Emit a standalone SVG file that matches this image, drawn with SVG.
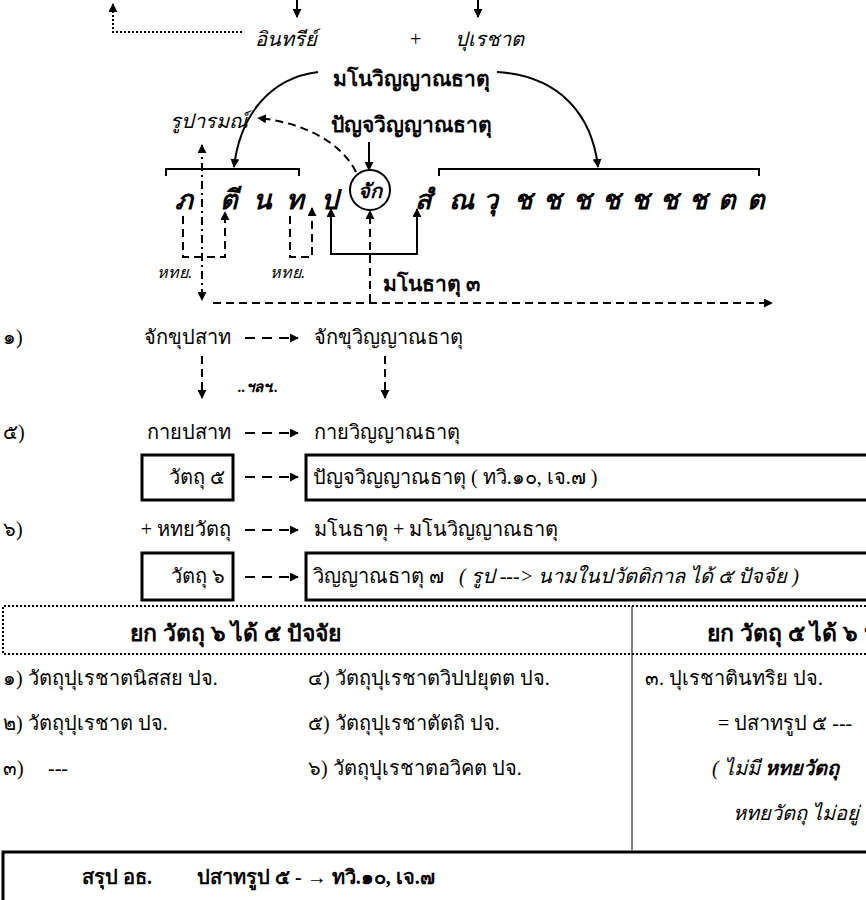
<svg xmlns="http://www.w3.org/2000/svg" width="866" height="900" viewBox="0 0 866 900">
<defs>
<marker id="ah" viewBox="0 0 10 10" refX="9" refY="5" markerWidth="9" markerHeight="9" markerUnits="userSpaceOnUse" orient="auto-start-reverse"><path d="M0,0 L10,5 L0,10 z" fill="#000"/></marker>
</defs>
<style>
text{font-family:'Liberation Serif',serif;fill:#000;font-size:20px}
.i{font-style:italic}
.b{font-weight:bold}
.h{font-size:23px;font-weight:bold}
.c{font-size:27px;font-weight:bold;font-style:italic}
.s{font-size:16px;font-style:italic}
.e{font-size:15px;font-style:italic;font-weight:bold}
.ln{fill:none;stroke:#000;stroke-width:2}
.th{fill:none;stroke:#000;stroke-width:1}
.bx{fill:none;stroke:#000;stroke-width:3}
.dash{stroke-dasharray:8 5}
.ra{stroke-dasharray:10 7}
.dot{stroke-dasharray:2 2}
.dd{stroke-dasharray:8 4 2 4}
</style>
<rect width="866" height="900" fill="#fff"/>

<g id="connectors">
<path class="ln dot" d="M242,32 H113 V4" marker-end="url(#ah)"/>
<path class="ln" d="M297,0 V17" marker-end="url(#ah)"/>
<path class="ln" d="M478,0 V17" marker-end="url(#ah)"/>
<path class="ln" d="M318,72 C270,78 240,115 234,167" marker-end="url(#ah)"/>
<path class="ln" d="M497,72 C560,76 592,115 598,167" marker-end="url(#ah)"/>
<path class="ln dash" d="M356,172 C340,140 300,122 258,118" marker-end="url(#ah)"/>
<path class="ln" d="M369,142 V170" marker-end="url(#ah)"/>
<path class="ln" d="M166,176 V169 H299 V176"/>
<path class="ln" d="M439,176 V169 H759 V176"/>
<path class="ln dd" d="M202,145 V300" marker-start="url(#ah)" marker-end="url(#ah)"/>
<path class="ln dash" d="M183,216 V257 H225 V212" marker-end="url(#ah)"/>
<path class="ln dash" d="M290,216 V257 H312 V208" marker-end="url(#ah)"/>
<path class="ln" d="M331,209 V254 H417 V209" marker-start="url(#ah)" marker-end="url(#ah)"/>
<path class="ln dash" d="M370,302 V211" marker-end="url(#ah)"/>
<path class="ln dash" d="M213,303 H772" marker-end="url(#ah)"/>
<path class="ln ra" d="M245,338 H298" marker-end="url(#ah)"/>
<path class="ln dash" d="M202,356 V398" marker-end="url(#ah)"/>
<path class="ln dash" d="M385,356 V398" marker-end="url(#ah)"/>
<path class="ln ra" d="M245,433 H298" marker-end="url(#ah)"/>
<path class="ln ra" d="M245,477 H298" marker-end="url(#ah)"/>
<path class="ln ra" d="M245,530 H298" marker-end="url(#ah)"/>
<path class="ln ra" d="M245,577 H298" marker-end="url(#ah)"/>
</g>

<g id="top-labels">
<text class="i" x="255" y="46">อินทรีย์</text>
<text x="410" y="46">+</text>
<text class="i" x="455" y="46">ปุเรชาต</text>
</g>
<g id="mano-vinnana"><text class="b" x="333" y="86" style="font-size:21px">มโนวิญญาณธาตุ</text></g>
<g id="rupa"><text class="i" x="170" y="128">รูปารมณ์</text></g>
<g id="panca"><text class="b" x="331" y="132" style="font-size:21px">ปัญจวิญญาณธาตุ</text></g>

<g id="vithi">
<text class="c" x="175" y="209">ภ</text>
<text class="c" x="220" y="209">ตี</text>
<text class="c" x="253" y="209">น</text>
<text class="c" x="286" y="209">ท</text>
<text class="c" x="321" y="209">ป</text>
<text class="c" x="415" y="209">สํ</text>
<text class="c" x="449" y="209">ณ</text>
<text class="c" x="483" y="209">วุ</text>
<text class="c" x="514" y="209">ช</text>
<text class="c" x="543" y="209">ช</text>
<text class="c" x="573" y="209">ช</text>
<text class="c" x="602" y="209">ช</text>
<text class="c" x="631" y="209">ช</text>
<text class="c" x="660" y="209">ช</text>
<text class="c" x="689" y="209">ช</text>
<text class="c" x="718" y="209">ต</text>
<text class="c" x="747" y="209">ต</text>
</g>
<g id="cak">
<circle cx="370" cy="190" r="20" fill="none" stroke="#000" stroke-width="2"/>
<text x="370" y="198" text-anchor="middle" style="font-size:20px;font-weight:bold;font-style:italic">จัก</text>
</g>
<g id="hadaya-labels">
<text class="s" x="157" y="278">หทย.</text>
<text class="s" x="270" y="278">หทย.</text>
</g>
<g id="manodhatu"><text class="b" x="383" y="291" style="font-size:21px">มโนธาตุ ๓</text></g>

<g id="row1">
<text x="3" y="344">๑)</text>
<text x="231" y="344" text-anchor="end">จักขุปสาท</text>
<text x="314" y="344">จักขุวิญญาณธาตุ</text>
</g>
<g id="etc"><text class="e" x="238" y="392">..ฯลฯ..</text></g>
<g id="row5">
<text x="3" y="439">๕)</text>
<text x="231" y="439" text-anchor="end">กายปสาท</text>
<text x="314" y="439">กายวิญญาณธาตุ</text>
</g>
<g id="box5">
<rect class="bx" x="142" y="455" width="91" height="45"/>
<text x="225" y="484" text-anchor="end">วัตถุ ๕</text>
</g>
<g id="box5r">
<rect class="bx" x="306" y="455" width="580" height="45"/>
<text x="313" y="484">ปัญจวิญญาณธาตุ ( ทวิ.๑๐, เจ.๗ )</text>
</g>
<g id="row6">
<text x="3" y="536">๖)</text>
<text x="231" y="536" text-anchor="end">+ หทยวัตถุ</text>
<text x="314" y="536">มโนธาตุ + มโนวิญญาณธาตุ</text>
</g>
<g id="box6">
<rect class="bx" x="142" y="553" width="91" height="47"/>
<text x="225" y="583" text-anchor="end">วัตถุ ๖</text>
</g>
<g id="box6r">
<rect class="bx" x="306" y="553" width="580" height="47"/>
<text x="313" y="583">วิญญาณธาตุ ๗ <tspan class="i" dx="10">( รูป ---&gt; นามในปวัตติกาล ได้ ๕ ปัจจัย )</tspan></text>
</g>

<g id="table">
<path class="ln dot" d="M870,606 H3 V654 H870"/>
<path class="th" d="M632,606 V850"/>
<text class="h" x="130" y="641">ยก วัตถุ ๖ ได้ ๕ ปัจจัย</text>
<text class="h" x="707" y="641">ยก วัตถุ ๕ ได้ ๖ ปัจจัย</text>
<text x="3" y="685">๑) วัตถุปุเรชาตนิสสย ปจ.</text>
<text x="308" y="685">๔) วัตถุปุเรชาตวิปปยุตต ปจ.</text>
<text x="645" y="685">๓. ปุเรชาตินทริย ปจ.</text>
<text x="3" y="730">๒) วัตถุปุเรชาต ปจ.</text>
<text x="308" y="730">๕) วัตถุปุเรชาตัตถิ ปจ.</text>
<text x="718" y="730">= ปสาทรูป ๕ ---</text>
<text x="3" y="775">๓)</text>
<text x="48" y="775">---</text>
<text x="308" y="775">๖) วัตถุปุเรชาตอวิคต ปจ.</text>
<text class="i" x="712" y="775">( ไม่มี <tspan class="b">หทยวัตถุ</tspan></text>
<text class="i" x="733" y="820">หทยวัตถุ ไม่อยู่</text>
</g>

<g id="summary">
<rect class="bx" x="3" y="852" width="900" height="80"/>
<text class="b" x="82" y="884">สรุป อธ.</text>
<text class="b" x="197" y="884">ปสาทรูป ๕ - → ทวิ.๑๐, เจ.๗</text>
</g>
</svg>
